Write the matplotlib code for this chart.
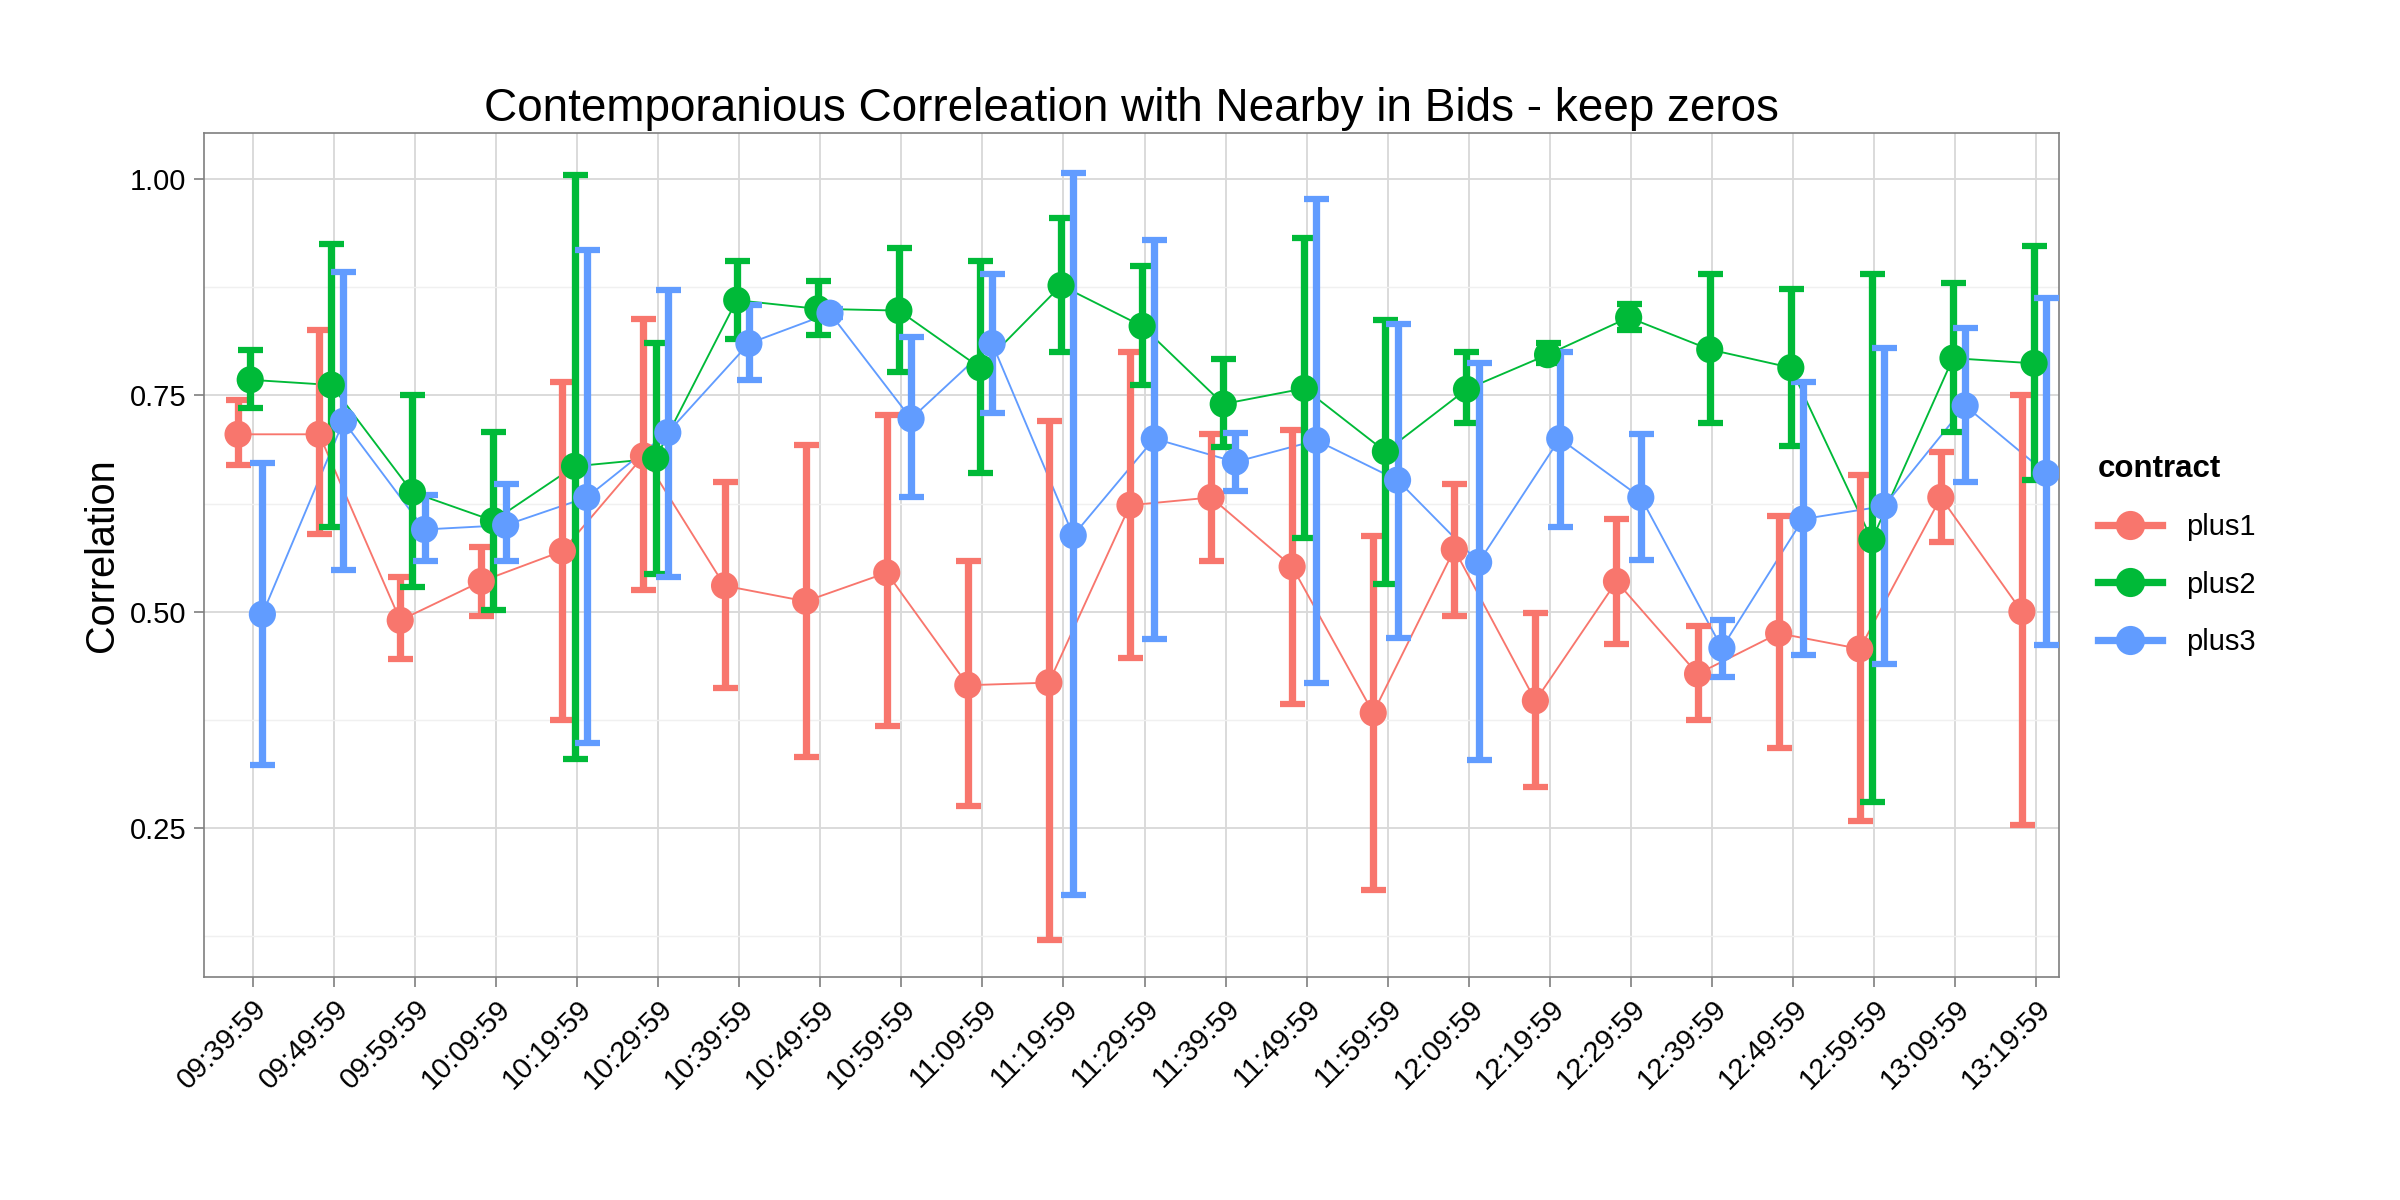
import matplotlib.pyplot as plt
import numpy as np
from matplotlib.lines import Line2D

plt.rcParams['font.family'] = ['Liberation Sans', 'DejaVu Sans']

times = ['09:39:59', '09:49:59', '09:59:59', '10:09:59', '10:19:59', '10:29:59', '10:39:59',
         '10:49:59', '10:59:59', '11:09:59', '11:19:59', '11:29:59', '11:39:59', '11:49:59',
         '11:59:59', '12:09:59', '12:19:59', '12:29:59', '12:39:59', '12:49:59', '12:59:59',
         '13:09:59', '13:19:59']

plus1 = [0.705, 0.705, 0.49, 0.535, 0.57, 0.68, 0.53, 0.512, 0.545, 0.415, 0.418, 0.623,
         0.632, 0.552, 0.383, 0.572, 0.397, 0.535, 0.428, 0.475, 0.457, 0.632, 0.5]
plus1_lo = [0.67, 0.59, 0.445, 0.495, 0.375, 0.525, 0.412, 0.332, 0.368, 0.275, 0.12, 0.447,
            0.558, 0.393, 0.178, 0.495, 0.297, 0.463, 0.375, 0.342, 0.258, 0.58, 0.253]
plus1_hi = [0.745, 0.825, 0.54, 0.575, 0.765, 0.838, 0.65, 0.693, 0.727, 0.558, 0.72, 0.8,
            0.705, 0.71, 0.588, 0.648, 0.498, 0.607, 0.483, 0.61, 0.658, 0.685, 0.75]

plus2 = [0.768, 0.762, 0.638, 0.605, 0.668, 0.677, 0.86, 0.85, 0.848, 0.782, 0.877, 0.83,
         0.74, 0.758, 0.685, 0.757, 0.797, 0.84, 0.803, 0.782, 0.583, 0.793, 0.787]
plus2_lo = [0.735, 0.598, 0.528, 0.502, 0.33, 0.543, 0.815, 0.82, 0.777, 0.66, 0.8, 0.762,
            0.69, 0.585, 0.532, 0.718, 0.787, 0.825, 0.718, 0.692, 0.28, 0.708, 0.652]
plus2_hi = [0.802, 0.925, 0.75, 0.708, 1.005, 0.81, 0.905, 0.882, 0.92, 0.905, 0.955, 0.9,
            0.792, 0.932, 0.837, 0.8, 0.81, 0.856, 0.89, 0.873, 0.89, 0.88, 0.923]

plus3 = [0.497, 0.72, 0.595, 0.6, 0.632, 0.707, 0.81, 0.845, 0.723, 0.81, 0.588, 0.7,
         0.673, 0.698, 0.652, 0.557, 0.7, 0.632, 0.458, 0.607, 0.622, 0.738, 0.66]
plus3_lo = [0.323, 0.548, 0.558, 0.558, 0.348, 0.54, 0.768, 0.84, 0.632, 0.73, 0.172, 0.468,
            0.64, 0.418, 0.47, 0.328, 0.598, 0.56, 0.425, 0.45, 0.44, 0.65, 0.462]
plus3_hi = [0.672, 0.893, 0.635, 0.648, 0.918, 0.872, 0.855, 0.85, 0.818, 0.89, 1.007, 0.93,
            0.706, 0.977, 0.833, 0.787, 0.8, 0.705, 0.49, 0.765, 0.805, 0.828, 0.862]

series = [('plus1', plus1, plus1_lo, plus1_hi, '#F8766D', -0.18),
          ('plus2', plus2, plus2_lo, plus2_hi, '#00BA38', -0.03),
          ('plus3', plus3, plus3_lo, plus3_hi, '#619CFF', 0.12)]

fig = plt.figure(figsize=(16, 8), dpi=150)
ax = fig.add_axes([0.085, 0.186, 0.773, 0.703])

x = np.arange(1, len(times) + 1)
for name, v, lo, hi, col, off in series:
    v = np.array(v); lo = np.array(lo); hi = np.array(hi)
    xs = x + off
    ax.plot(xs, v, color=col, lw=0.9, zorder=3)
    ax.errorbar(xs, v, yerr=[v - lo, hi - v], fmt='none', ecolor=col, elinewidth=3.5,
                capsize=6, capthick=3, zorder=4)
    ax.scatter(xs, v, s=170, color=col, zorder=5, edgecolors='none')

ax.set_xlim(0.4, 23.28)
ax.set_ylim(0.078, 1.053)
ax.set_yticks([0.25, 0.5, 0.75, 1.0])
ax.set_yticklabels(['0.25', '0.50', '0.75', '1.00'])
ax.set_yticks([0.125, 0.375, 0.625, 0.875], minor=True)
ax.set_xticks(x)
ax.set_xticklabels(times, rotation=45, ha='right', rotation_mode='anchor')
ax.tick_params(axis='both', labelsize=14, color='#7f7f7f', length=5)
ax.tick_params(axis='y', which='minor', length=0)
ax.grid(True, which='major', color='#d9d9d9', lw=0.9)
ax.grid(True, which='minor', axis='y', color='#f0f0f0', lw=0.7)
ax.set_axisbelow(True)
for s in ax.spines.values():
    s.set_color('#7f7f7f')
    s.set_linewidth(0.8)
ax.set_ylabel('Correlation', fontsize=19)
ax.set_title('Contemporanious Correleation with Nearby in Bids - keep zeros', fontsize=22)

handles = [Line2D([0], [0], color=c, lw=3.5, marker='o', markersize=13) for _, _, _, _, c, _ in series]
leg = ax.legend(handles, [s[0] for s in series], title='contract', loc='center left',
                bbox_to_anchor=(1.01, 0.5), frameon=False, fontsize=14,
                handlelength=2.2, borderpad=0.2, labelspacing=1.0)
leg.get_title().set_fontweight('bold')
leg.get_title().set_fontsize(15)
leg._legend_box.align = 'left'

fig.savefig('out.png', dpi=150, facecolor='white')
